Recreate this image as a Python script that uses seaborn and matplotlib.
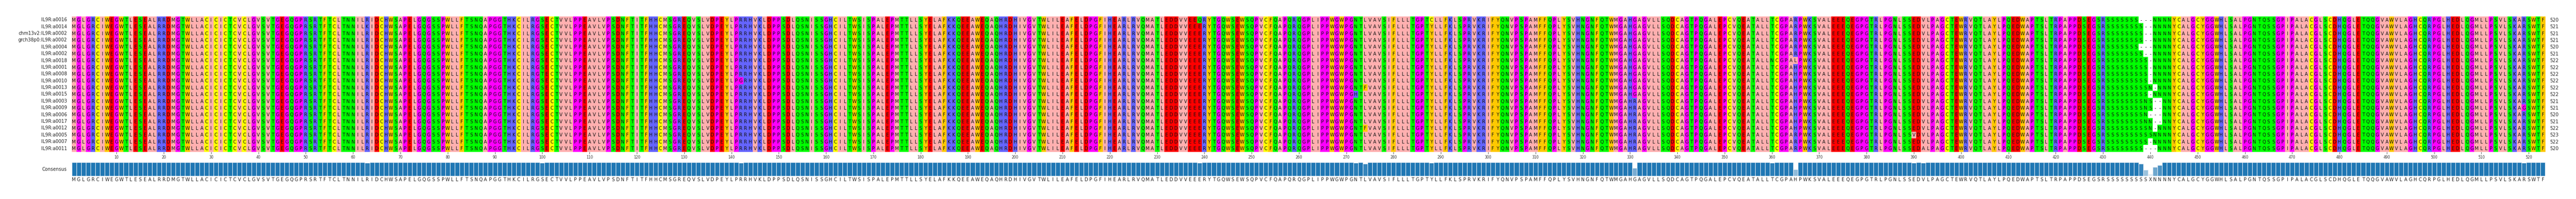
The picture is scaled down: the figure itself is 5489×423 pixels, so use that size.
import numpy as np
import matplotlib
matplotlib.use("Agg")
import matplotlib.pyplot as plt
from matplotlib.colors import ListedColormap, to_rgb
import seaborn as sns

# ---------------- data ----------------
row_labels = ["IL9R:a0016", "IL9R:a0014", "chm13v2:IL9R:a0002", "grch38p0:IL9R:a0002",
              "IL9R:a0004", "IL9R:a0002", "IL9R:a0018", "IL9R:a0001", "IL9R:a0008",
              "IL9R:a0010", "IL9R:a0013", "IL9R:a0015", "IL9R:a0003", "IL9R:a0009",
              "IL9R:a0006", "IL9R:a0017", "IL9R:a0012", "IL9R:a0005", "IL9R:a0007",
              "IL9R:a0011"]

# shared sequence, columns 1-430
prefix = ("MGLGRCIWEGWTLESEALRRDMGTWLLACICICTCVCLGVSVTGEGQGPRSRTFTCLTNNILRIDCHWSAPELGQGSSPWLLFTSNQAPGG"
          "THKCILRGSECTVVLPPEAVLVPSDNFTITFHHCMSGREQVSLVDPEYLPRRHVKLDPPSDLQSNISSGHCILTWSISPALEPMTTLLSY"
          "ELAFKKQEEAWEQAQHRDHIVGVTWLILEAFELDPGFIHEARLRVQMATLEDDVVEEERYTGQWSEWSQPVCFQAPQRQGPLIPPWGWPGN"
          "TLVAVSIFLLLTGPTYLLFKLSPRVKRIFYQNVPSPAMFFQPLYSVHNGNFQTWMGAHGAGVLLSQDCAGTPQGALEPCVQEATALLTCGP"
          "ARPWKSVALEEEQEGPGTRLPGNLSSEDVLPAGCTEWRVQTLAYLPQEDWAPTSLTRPAPPDSEGSR")
# variable serine / asparagine stretch, columns 431-444, one string per row
sn_region = ["SSSSSSS---NNNN", "SSSSSSSS--NNNN", "SSSSSSSS--NNNN", "SSSSSSSS--NNNN",
             "SSSSSSS---NNNN", "SSSSSSSS--NNNN", "SSSSSSSSS-NNNN", "SSSSSSSSS-NNNN",
             "SSSSSSSSS-NNNN", "SSSSSSSSS-NNNN", "SSSSSSSSSN-NNN", "SSSSSSSSS-NNNN",
             "SSSSSSSSNS--NN", "SSSSSSSSNS--NN", "SSSSSSSSN---NN", "SSSSSSSSNN--NN",
             "SSSSSSSSSN-NNN", "SSSSSSSSSSNNNN", "SSSSSSSSS-NNNN", "SSSSSSSS---NNN"]
# shared sequence, columns 445-523
suffix = "YCALGCYGGWHLSALPGNTQSSGPIPALACGLSCDHQGLETQQGVAWVLAGHCQRPGLHEDLQGMLLPSVLSKARSWTF"

# point substitutions: (row number 1-20, column 1-523, residue)
substitutions = [(2, 63, "K"), (9, 100, "T"), (10, 142, "G"), (1, 239, "Q"),
                 (12, 272, "H"), (11, 274, "F"), (17, 274, "F"), (1, 288, "C"),
                 (7, 360, "N"), (7, 365, "L"), (18, 390, "V"), (20, 392, "A"),
                 (14, 519, "G")]
subst_rows_331_R = [13, 14, 15, 16, 17, 18, 19, 20]
subst_rows_365_H = [8, 9, 10, 11, 12, 13, 14, 15, 16, 17]

assert len(prefix) == 430, len(prefix)
assert prefix.index("KRIFYQ") == 297, prefix.index("KRIFYQ")

# Zappo colour scheme
zappo = {}
for a in "ILMAV": zappo[a] = "#ffafaf"
for a in "FWY": zappo[a] = "#ffc800"
for a in "KRH": zappo[a] = "#6464ff"
for a in "DE": zappo[a] = "#ff0000"
for a in "STNQ": zappo[a] = "#00ff00"
for a in "GP": zappo[a] = "#ff00ff"
zappo["C"] = "#ffff00"
zappo["-"] = "#ffffff"

# ---------------- build alignment ----------------
rows = []
for i in range(20):
    s = list(prefix + sn_region[i] + suffix)
    rows.append(s)
for r, c, a in substitutions:
    rows[r - 1][c - 1] = a
for r in subst_rows_331_R:
    rows[r - 1][330] = "R"
for r in subst_rows_365_H:
    rows[r - 1][364] = "H"
aln = np.array(rows)
nrow, ncol = aln.shape

symbols = sorted(zappo.keys())
codes = np.vectorize(symbols.index)(aln)
cmap = ListedColormap([zappo[s] for s in symbols])

# consensus
cons, cons_h = [], []
for j in range(ncol):
    col = list(aln[:, j])
    vals, cnts = np.unique(col, return_counts=True)
    best = vals[np.argmax(cnts)]
    if best == "-":
        nong = [(c, v) for v, c in zip(vals, cnts) if v != "-"]
        cons.append("X")
        cons_h.append(max(nong)[0] / nrow)
    else:
        cons.append(best)
        cons_h.append(cnts.max() / nrow)
lengths = [(r != "-").sum() for r in aln]

# ---------------- plot ----------------
W, H = 5489, 423
fig = plt.figure(figsize=(W / 100, H / 100), dpi=100)
x0, x1 = 152.6, 5423.5
ax = fig.add_axes([x0 / W, 1 - 322.7 / H, (x1 - x0) / W, (322.7 - 35) / H])
sns.heatmap(codes, cmap=cmap, vmin=-0.5, vmax=len(symbols) - 0.5, cbar=False, ax=ax,
            xticklabels=False, yticklabels=row_labels)
for i in range(nrow):
    for j in range(ncol):
        ax.text(j + 0.5, i + 0.55, aln[i, j], ha="center", va="center",
                fontsize=7, color="#111111")
    ax.text(524.0, i + 0.55, str(lengths[i]), ha="left", va="center", fontsize=7, color="#222222")
ax.set_yticklabels(row_labels, rotation=0, fontsize=7, color="#222222")
ax.tick_params(axis="y", length=0, pad=7)
ticks = np.arange(10, ncol + 1, 10)
ax.set_xticks(ticks - 0.5)
ax.set_xticklabels([str(t) for t in ticks], fontsize=5.5, color="#333333")
ax.tick_params(axis="x", length=3, width=0.6, color="#333333", pad=2)
ax.set_xlim(0, ncol)
for sp in ax.spines.values():
    sp.set_visible(False)

ax2 = fig.add_axes([x0 / W, 1 - 374 / H, (x1 - x0) / W, 29 / H])
base = np.array(to_rgb("#1f77b4"))
bar_cols = [tuple(1 - h * (1 - base)) for h in cons_h]
ax2.bar(np.arange(ncol) + 0.5, cons_h, width=1.0, color=bar_cols,
        edgecolor="#e8eef5", linewidth=0.8)
ax2.set_xlim(0, ncol)
ax2.set_ylim(0, 1)
ax2.axis("off")
for j in range(ncol):
    ax2.text(j + 0.5, -0.27, cons[j], ha="center", va="center", fontsize=7,
             color="#222222", transform=ax2.get_xaxis_transform())
fig.text(142 / W, 1 - 360 / H, "Consensus", ha="right", va="center", fontsize=7, color="#222222")

fig.savefig("out.png", dpi=100)
